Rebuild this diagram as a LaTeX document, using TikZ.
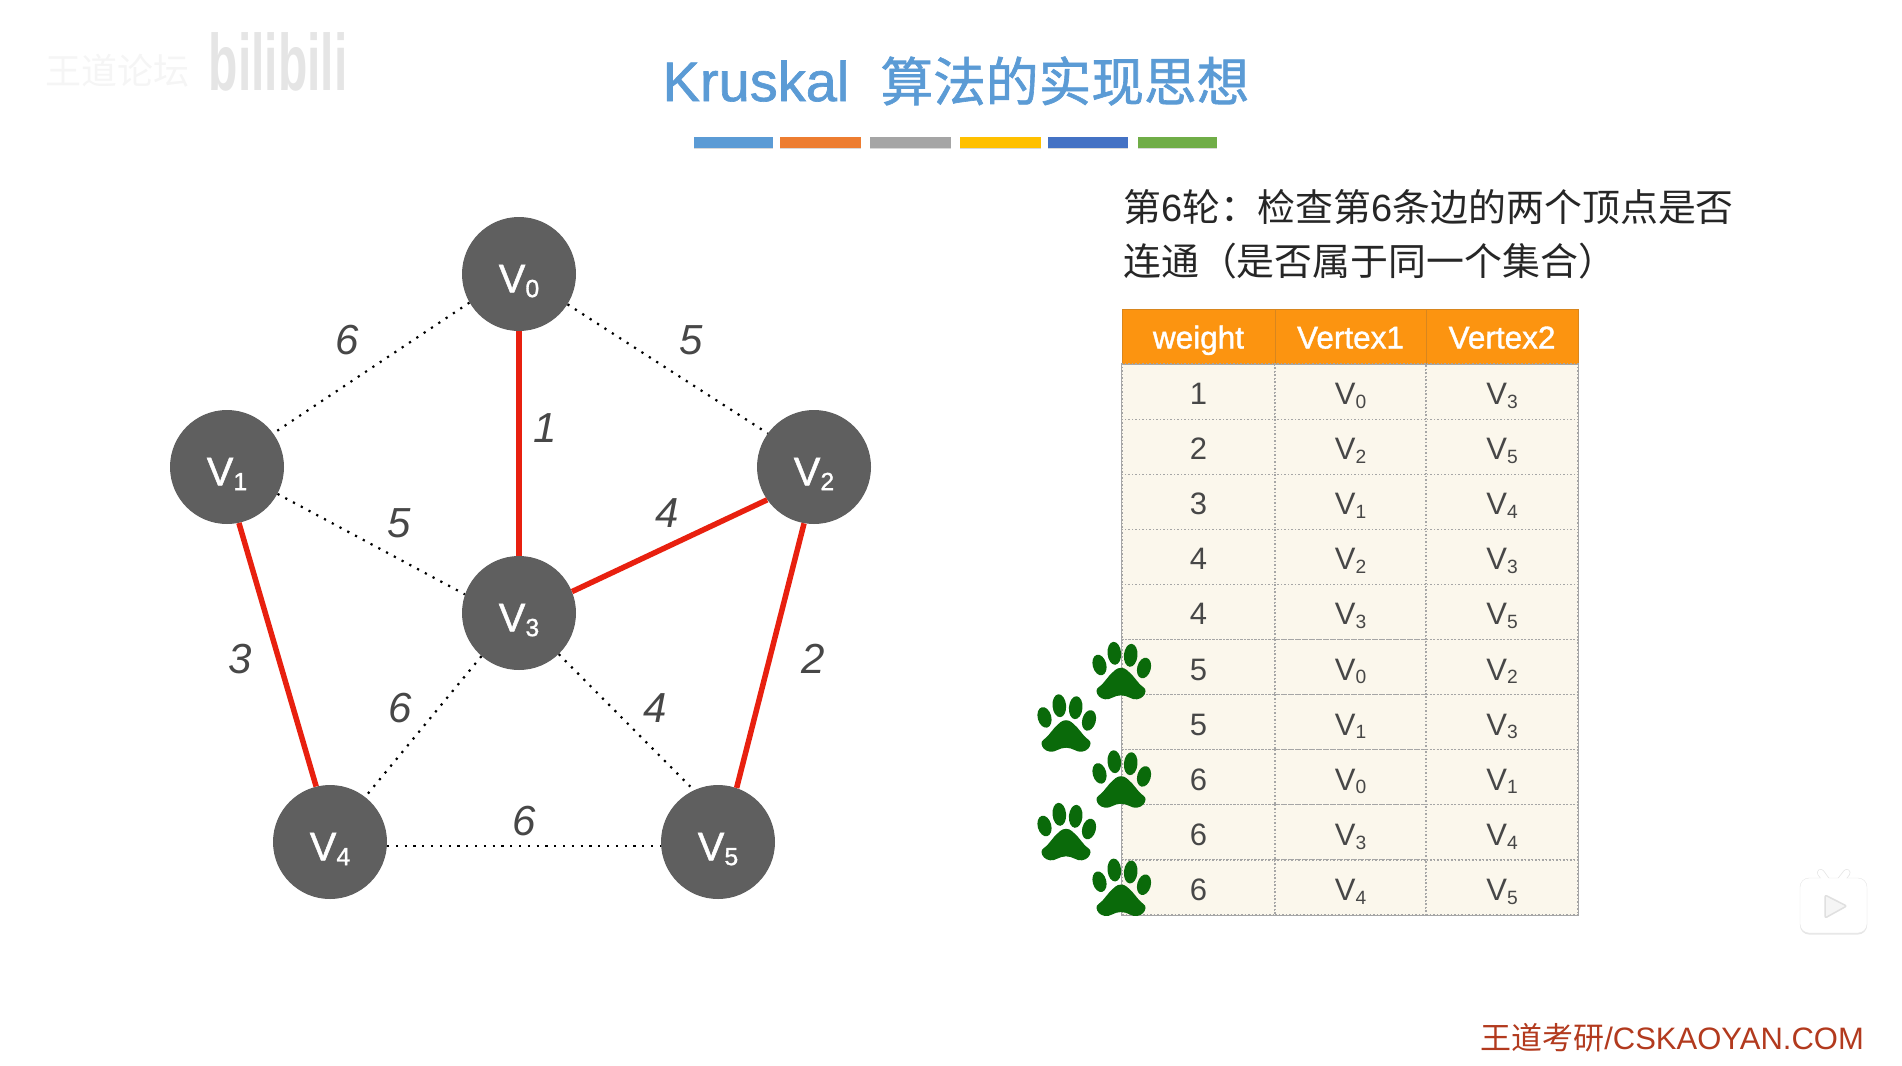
\documentclass[tikz,border=0pt]{standalone}
\usepackage{fontspec}
\setmainfont{Liberation Sans}
\newfontfamily\cjk{Noto Sans CJK SC}
\newfontfamily\cjkmed[FakeBold=1.2]{Noto Sans CJK SC}
\newfontfamily\sansmed[FakeBold=1.2]{Liberation Sans}
\usetikzlibrary{positioning,shadows}
\definecolor{titleblue}{HTML}{5B9BD5}
\definecolor{barorange}{HTML}{ED7D31}
\definecolor{bargray}{HTML}{A5A5A5}
\definecolor{baryellow}{HTML}{FFC000}
\definecolor{barblue}{HTML}{4472C4}
\definecolor{bargreen}{HTML}{70AD47}
\definecolor{vertgray}{HTML}{5F5F5F}
\definecolor{pickred}{HTML}{E8200F}
\definecolor{headorange}{HTML}{FC9410}
\definecolor{headline}{HTML}{D8861E}
\definecolor{cellcream}{HTML}{FBF7EC}
\definecolor{pawgreen}{HTML}{0A6A0A}
\definecolor{footred}{HTML}{B23A1E}
\newcommand{\fsize}[1]{\fontsize{#1}{#1}\selectfont}
\newcommand{\vname}[1]{V\raisebox{-0.12em}{\scalebox{0.62}{#1}}}
\tikzset{paw/.pic={
  \fill[pawgreen] plot[smooth cycle,tension=0.8] coordinates {(0,-15.5) (11,-8.5) (18,0) (24.5,8) (16,16) (0,12) (-16,16) (-24.5,8) (-18,0) (-11,-8.5)};
  \fill[pawgreen,rotate around={15:(-21.5,-18.3)}] (-21.5,-18.3) ellipse (6.8 and 10.5);
  \fill[pawgreen,rotate around={5:(-6.7,-30)}] (-6.7,-30) ellipse (6.8 and 11.5);
  \fill[pawgreen,rotate around={-5:(9.7,-28)}] (9.7,-28) ellipse (6.8 and 11.5);
  \fill[pawgreen,rotate around={-15:(23,-15.3)}] (23,-15.3) ellipse (6.8 and 10.5);
}}

\begin{document}
\begin{tikzpicture}[x=1pt,y=-1pt]
  \tikzstyle{vert}=[circle,fill=vertgray,minimum size=114pt,inner sep=0pt,text=white,text height=36.6pt,text depth=0pt,font=\sansmed\fsize{40}]
  \tikzstyle{pick}=[pickred,line width=5.5pt]
  \tikzstyle{unpick}=[black,line width=2.2pt,dash pattern=on 2.2pt off 6.6pt]
  \tikzstyle{weight}=[font=\itshape\fsize{42},text=black!72,inner sep=0pt]
  \tikzstyle{bar}=[minimum height=10.5pt,inner sep=0pt,drop shadow={shadow xshift=0pt,shadow yshift=-1.5pt,opacity=0.3}]
  \tikzstyle{head}=[fill=headorange,draw=headline,line width=1pt,text=white,minimum height=55pt,inner sep=0pt,text height=24pt,text depth=0pt,font=\sansmed\fsize{31.5}]
  \tikzstyle{cell}=[fill=cellcream,draw=black!35,line width=1.2pt,dash pattern=on 1.5pt off 2pt,minimum height=55.1pt,inner sep=0pt,text=black!72,text height=26pt,text depth=0pt,font=\fsize{31}]
  \useasboundingbox (0,0) rectangle (1902,1065);
  % title
  \node[text=titleblue,inner sep=0pt] (title) at (956,81) {\sansmed\fsize{56}Kruskal\ \ \cjkmed\fsize{52.7}算法的实现思想};
  \node[bar,fill=titleblue,minimum width=79pt] (bar1) at (733.5,142.5) {};
  \node[bar,fill=barorange,minimum width=81pt] (bar2) at (820.5,142.5) {};
  \node[bar,fill=bargray,minimum width=81pt] (bar3) at (910.5,142.5) {};
  \node[bar,fill=baryellow,minimum width=81pt] (bar4) at (1000.5,142.5) {};
  \node[bar,fill=barblue,minimum width=80pt] (bar5) at (1088,142.5) {};
  \node[bar,fill=bargreen,minimum width=79pt] (bar6) at (1177.5,142.5) {};
  % watermark
  \node[text=black!4,font=\cjk\fsize{36},inner sep=0pt] (mark) at (117,71) {王道论坛};
  \node[text=black!10,font=\bfseries\fsize{80},xscale=0.6,inner sep=0pt] (bili) at (278,62) {bilibili};
  % graph
  \node[vert] (v0) at (519,274) {\vname{0}};
  \node[vert] (v1) at (227,467) {\vname{1}};
  \node[vert] (v2) at (814,467) {\vname{2}};
  \node[vert] (v3) at (519,613) {\vname{3}};
  \node[vert] (v4) at (330,842) {\vname{4}};
  \node[vert] (v5) at (718,842) {\vname{5}};
  \draw[unpick] (v0.210) -- (v1.36);
  \draw[unpick] (v0.-32) -- (v2.144);
  \draw[unpick] (v1.-28) -- (v3.161);
  \draw[unpick] (v3.-131) -- (v4.52);
  \draw[unpick,shorten >=5pt] (v3.-46) -- (v5.115);
  \draw[unpick] (v4.-4) -- (v5.184);
  \draw[pick] (v0) -- (v3);
  \draw[pick] (v3.22) -- (v2.215);
  \draw[pick] (v2.-100) -- (v5.71);
  \draw[pick] (v1.-78) -- (v4.104);
  \node[weight] (w03) at (545,428) {1};
  \node[weight] (w01) at (347,340) {6};
  \node[weight] (w02) at (691,340) {5};
  \node[weight] (w13) at (399,523) {5};
  \node[weight] (w23) at (667,513) {4};
  \node[weight] (w14) at (240,659) {3};
  \node[weight] (w25) at (813,659) {2};
  \node[weight] (w34) at (400,708) {6};
  \node[weight] (w35) at (655,708) {4};
  \node[weight] (w45) at (524,821) {6};
  % table
  \node[anchor=north west,align=left,inner sep=0pt,text=black!85,font=\cjk\fsize{37.9}] (round) at (1123,189) {第{\rmfamily 6}轮：检查第{\rmfamily 6}条边的两个顶点是否\\[16pt]连通（是否属于同一个集合）};
  \node[head,minimum width=153pt] (hw) at (1198.5,336.5) {weight};
  \node[head,minimum width=151pt] (ha) at (1350.5,336.5) {Vertex1};
  \node[head,minimum width=152pt] (hb) at (1502,336.5) {Vertex2};
  \foreach \w/\a/\b [count=\i,evaluate=\i as \yy using 364+55.1*(\i-0.5)] in {1/0/3,2/2/5,3/1/4,4/2/3,4/3/5,5/0/2,5/1/3,6/0/1,6/3/4,6/4/5}{
    \node[cell,minimum width=153pt] (cw\i) at (1198.5,\yy) {\w};
    \node[cell,minimum width=151pt] (ca\i) at (1350.5,\yy) {\vname{\a}};
    \node[cell,minimum width=152pt] (cb\i) at (1502,\yy) {\vname{\b}};
  }
  \draw[black!35,line width=1.5pt] (hw.south west) rectangle (cb10.south east);
  % steps
  \pic (paw1) at (1121,683.3) {paw};
  \pic (paw2) at (1066,735.7) {paw};
  \pic (paw3) at (1121,791.7) {paw};
  \pic (paw4) at (1066,844.3) {paw};
  \pic (paw5) at (1121,900) {paw};
  % player button
  \coordinate (antl) at (1820.7,872.7);
  \coordinate (antr) at (1846.7,872.7);
  \coordinate (antlb) at (1826,880);
  \coordinate (antrb) at (1841,880);
  \draw[black!10,line width=7.5pt,line cap=round] (antl) -- (antlb);
  \draw[black!10,line width=7.5pt,line cap=round] (antr) -- (antrb);
  \node[fill=white,draw=black!10,minimum width=67pt,minimum height=55pt,rounded corners=9pt,inner sep=0pt,drop shadow={shadow xshift=0pt,shadow yshift=-1.5pt,opacity=0.2}] (tv) at (1833.5,905.5) {};
  \draw[white,line width=6pt,line cap=round] (antl) -- (antlb);
  \draw[white,line width=6pt,line cap=round] (antr) -- (antrb);
  \fill[black!4,draw=black!12,line width=1.5pt,rounded corners=2pt] (1825,895) -- (1825,918) -- (1846.7,906) -- cycle;
  % footer
  \node[text=footred,font=\fsize{31},inner sep=0pt,anchor=east] (foot) at (1864,1038) {{\cjk 王道考研}/CSKAOYAN.COM};
\end{tikzpicture}
\end{document}
